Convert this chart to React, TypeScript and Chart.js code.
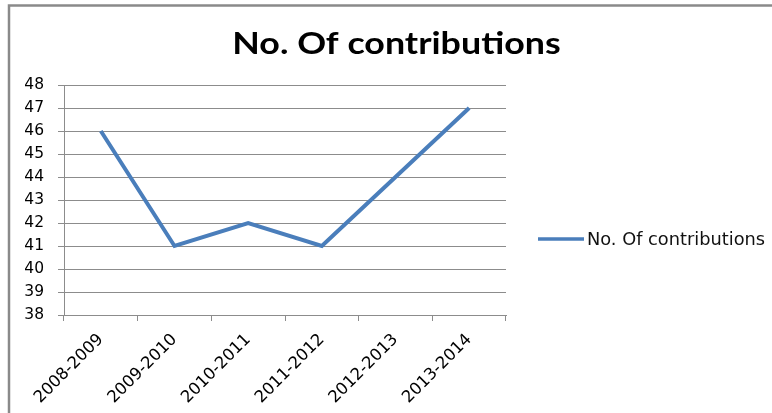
import React, { useEffect, useRef } from "react";
import { Chart, registerables } from "chart.js";

Chart.register(...registerables);

const categories = ["2008-2009", "2009-2010", "2010-2011", "2011-2012", "2012-2013", "2013-2014"];
const contributions = [46, 41, 42, 41, 44, 47];
const seriesLabel = "No. Of contributions";
const chartTitle = "No. Of contributions";
const yMin = 38;
const yMax = 48;

const LINE_COLOR = "#4A7EBB";
const GRID_COLOR = "#8C8C8C";
const TITLE_FONT = "Lato, 'Open Sans', sans-serif";
const TICK_FONT = "'DejaVu Sans', sans-serif";

const framePlugin = {
  id: "frame",
  beforeDraw(chart: any) {
    const ctx = chart.ctx;
    ctx.save();
    ctx.fillStyle = "#ffffff";
    ctx.fillRect(0, 0, chart.width, chart.height);
    ctx.strokeStyle = "#8A8A8A";
    ctx.lineWidth = 2.5;
    ctx.beginPath();
    ctx.moveTo(9, chart.height + 5);
    ctx.lineTo(9, 5.5);
    ctx.lineTo(chart.width + 5, 5.5);
    ctx.stroke();
    ctx.restore();
  },
};

const titlePlugin = {
  id: "customTitle",
  afterDraw(chart: any) {
    const ctx = chart.ctx;
    ctx.save();
    ctx.fillStyle = "#000";
    ctx.font = `bold 31px ${TITLE_FONT}`;
    ctx.textBaseline = "alphabetic";
    ctx.textAlign = "center";
    ctx.translate(396.5, 54);
    ctx.scale(1.155, 1);
    ctx.fillText(chartTitle, 0, 0);
    ctx.restore();
  },
};

const legendPlugin = {
  id: "customLegend",
  afterDraw(chart: any) {
    const ctx = chart.ctx;
    const ds = chart.data.datasets[0];
    const y = 239;
    ctx.save();
    ctx.strokeStyle = ds.borderColor;
    ctx.lineWidth = 3.5;
    ctx.beginPath();
    ctx.moveTo(538, y);
    ctx.lineTo(584, y);
    ctx.stroke();
    ctx.fillStyle = "#111";
    ctx.font = `17.8px ${TICK_FONT}`;
    ctx.textBaseline = "middle";
    ctx.textAlign = "left";
    ctx.fillText(ds.label, 587, y + 1);
    ctx.restore();
  },
};

export default function App() {
  const ref = useRef<HTMLCanvasElement>(null);
  useEffect(() => {
    const canvas = ref.current!;
    const chart = new Chart(canvas, {
      type: "line",
      data: {
        labels: categories,
        datasets: [
          {
            label: seriesLabel,
            data: contributions,
            borderColor: LINE_COLOR,
            backgroundColor: LINE_COLOR,
            borderWidth: 4,
            pointRadius: 0,
            tension: 0,
          },
        ],
      },
      options: {
        responsive: false,
        animation: false,
        layout: { padding: { top: 85, left: 0, right: 266, bottom: 0 } },
        plugins: {
          legend: { display: false },
          tooltip: { enabled: false },
          title: { display: false },
        },
        scales: {
          x: {
            offset: true,
            grid: {
              offset: true,
              drawOnChartArea: false,
              drawTicks: true,
              tickLength: 6,
              color: GRID_COLOR,
            },
            border: { color: GRID_COLOR, width: 1 },
            ticks: {
              color: "#000",
              minRotation: 45,
              maxRotation: 45,
              padding: 9,
              font: { family: TICK_FONT, size: 16.5 },
            },
            afterFit(scale: any) {
              scale.height = 98;
            },
          },
          y: {
            min: yMin,
            max: yMax,
            grid: { color: GRID_COLOR, tickLength: 6, lineWidth: 1 },
            border: { color: GRID_COLOR, width: 1 },
            ticks: {
              stepSize: 1,
              color: "#000",
              padding: 14,
              font: { family: TICK_FONT, size: 15.5 },
            },
            afterFit(scale: any) {
              scale.width = 64;
            },
          },
        },
      },
      plugins: [framePlugin, titlePlugin, legendPlugin],
    });
    return () => chart.destroy();
  }, []);
  return (
    <div style={{ position: "absolute", left: 0, top: 0, width: 772, height: 413 }}>
      <canvas ref={ref} width={772} height={413} style={{ display: "block" }} />
    </div>
  );
}
